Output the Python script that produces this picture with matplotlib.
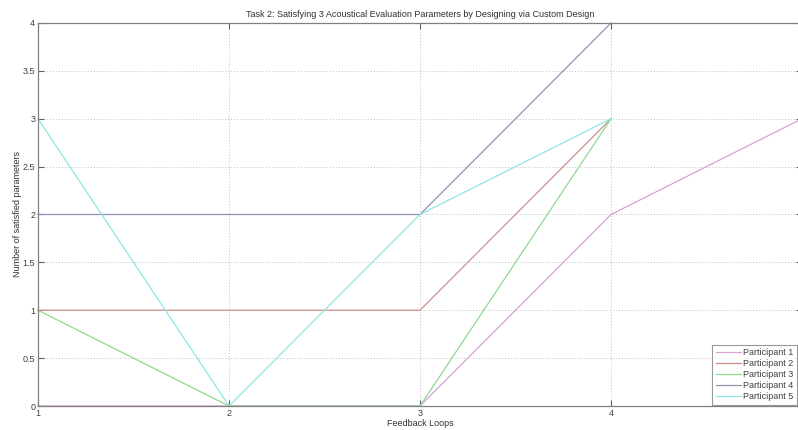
import numpy as np
import matplotlib
matplotlib.use("Agg")
import matplotlib.pyplot as plt

plt.rcParams['font.family'] = ['Liberation Sans', 'DejaVu Sans']

loops = [1, 2, 3, 4, 5]
p1 = [0, 0, 0, 2, 3]
p2 = [1, 1, 1, 3, np.nan]
p3 = [1, 0, 0, 3, np.nan]
p4 = [2, 2, 2, 4, np.nan]
p5 = [3, 0, 2, 3, np.nan]
names = ['Participant 1', 'Participant 2', 'Participant 3', 'Participant 4', 'Participant 5']
series = [p1, p2, p3, p4, p5]
colors = ['#d9a0d9', '#cc8f8f', '#8fd88f', '#958fb5', '#8fe6e6']
xtick_labels = ['1', '2', '3', '4', '']

fig = plt.figure(figsize=(7.98, 4.30), dpi=100)
ax = fig.add_axes([38/798, 1-406/430, 764/798, 383/430])

for ys, c, n in zip(series, colors, names):
    ax.plot(loops, ys, color=c, lw=0.9, label=n, clip_on=False)

ax.set_xlim(1, 5)
ax.set_ylim(0, 4)
ax.set_xticks(loops)
ax.set_xticklabels(xtick_labels)
ax.set_yticks(np.arange(0, 4.01, 0.5))
ax.set_yticklabels(['0', '0.5', '1', '1.5', '2', '2.5', '3', '3.5', '4'])
ax.grid(True, linestyle=(0, (1, 2)), color='#c0c0c0', lw=0.7)
ax.tick_params(direction='in', length=4, width=0.8, color='#606060',
               labelsize=6.5, labelcolor='#404040', top=True, right=True, pad=2)
for s in ax.spines.values():
    s.set_color('#808080')
    s.set_linewidth(0.9)

ax.set_title('Task 2: Satisfying 3 Acoustical Evaluation Parameters by Designing via Custom Design',
             fontsize=6.5, color='#303030', pad=4)
ax.set_xlabel('Feedback Loops', fontsize=6.5, color='#303030', labelpad=1)
ax.set_ylabel('Number of satisfied parameters', fontsize=6.5, color='#303030', labelpad=0.5)

leg = ax.legend(loc='lower right', bbox_to_anchor=(797/798, 1-405/430),
                bbox_transform=fig.transFigure, fontsize=6.5, frameon=True,
                fancybox=False, handlelength=2.8, borderpad=0.4, labelspacing=0.22,
                handletextpad=0.2, borderaxespad=0)
leg.get_frame().set_edgecolor('#808080')
leg.get_frame().set_linewidth(0.8)
for t in leg.get_texts():
    t.set_color('#404040')

fig.savefig('out.png', dpi=100)
